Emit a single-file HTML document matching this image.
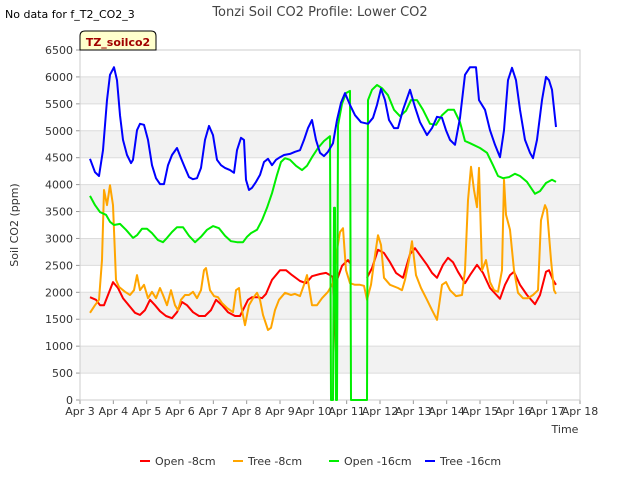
<!DOCTYPE html>
<html><head><meta charset="utf-8"><style>
body{margin:0;background:#fff;font-family:"Liberation Sans",sans-serif;}
svg text{font-family:"DejaVu Sans","Liberation Sans",sans-serif;}
</style></head><body>
<svg id="c" width="640" height="480" xmlns="http://www.w3.org/2000/svg">
<text x="320" y="16" text-anchor="middle" font-size="13" fill="#444">Tonzi Soil CO2 Profile: Lower CO2</text>
<text x="5" y="18" font-size="11" fill="#000">No data for f_T2_CO2_3</text>
<g id="plot"></g>
<g>
<path d="M80,50 L80,36 Q80,31 85,31 L151,31 Q156,31 156,36 L156,50 Z" fill="#ffffcc" stroke="#000" stroke-width="1"/>
<text x="118" y="46" text-anchor="middle" font-size="11" font-weight="bold" fill="#a00000">TZ_soilco2</text>
</g>
<text transform="translate(18,225) rotate(-90)" text-anchor="middle" font-size="11" fill="#333">Soil CO2 (ppm)</text>
<text x="565" y="433" text-anchor="middle" font-size="11" fill="#333">Time</text>
<g id="legend"></g>
</svg>
<script>
const yTicks=[0,500,1000,1500,2000,2500,3000,3500,4000,4500,5000,5500,6000,6500];
const xTickLabels=["Apr 3","Apr 4","Apr 5","Apr 6","Apr 7","Apr 8","Apr 9","Apr 10","Apr 11","Apr 12","Apr 13","Apr 14","Apr 15","Apr 16","Apr 17","Apr 18"];
const seriesNames=["Open -8cm","Tree -8cm","Open -16cm","Tree -16cm"];
const seriesColors=["#ff0000","#ffa500","#00ee00","#0000ff"];
const openDeepT=[3.30,3.45,3.60,3.78,3.90,4.02,4.20,4.38,4.59,4.71,4.86,5.01,5.16,5.34,5.49,5.61,5.76,5.91,6.09,6.27,6.45,6.63,6.81,6.99,7.17,7.35,7.53,7.71,7.89,8.01,8.13,8.31,8.46,8.61,8.76,8.91,9.03,9.15,9.30,9.48,9.66,9.81,9.96,10.14,10.32,10.50,10.53,10.59,10.62,10.65,10.68,10.71,10.74,10.86,10.98,11.10,11.13,11.61,11.64,11.76,11.91,12.06,12.24,12.42,12.60,12.78,12.93,13.11,13.29,13.50,13.68,13.86,14.04,14.22,14.40,14.55,14.70,15.00,15.21,15.39,15.54,15.69,15.87,16.05,16.20,16.41,16.65,16.80,16.98,17.16,17.28];
const openDeepV=[3790,3620,3490,3440,3310,3250,3270,3160,3010,3060,3180,3180,3100,2970,2930,3010,3120,3210,3210,3050,2930,3030,3160,3230,3190,3050,2950,2930,2930,3030,3100,3160,3340,3570,3840,4180,4420,4490,4460,4350,4270,4350,4510,4680,4810,4900,0,0,3570,3570,0,0,5100,5500,5700,5740,0,0,5570,5760,5850,5790,5660,5390,5270,5370,5570,5570,5390,5130,5110,5290,5390,5390,5160,4810,4770,4680,4590,4360,4160,4120,4140,4200,4160,4050,3830,3880,4030,4090,4050];
const treeDeepT=[3.30,3.45,3.57,3.69,3.81,3.90,4.02,4.11,4.20,4.29,4.41,4.53,4.59,4.71,4.80,4.92,5.04,5.16,5.28,5.40,5.52,5.64,5.76,5.91,6.03,6.15,6.27,6.39,6.51,6.63,6.75,6.87,6.99,7.11,7.23,7.35,7.50,7.62,7.71,7.83,7.92,7.98,8.07,8.16,8.28,8.40,8.52,8.64,8.76,8.88,9.00,9.12,9.30,9.45,9.60,9.72,9.84,9.96,10.08,10.20,10.32,10.44,10.59,10.71,10.83,10.95,11.10,11.25,11.43,11.64,11.79,11.91,12.03,12.15,12.27,12.42,12.54,12.69,12.90,13.05,13.20,13.41,13.56,13.71,13.86,13.98,14.10,14.25,14.40,14.55,14.70,14.88,14.97,15.15,15.30,15.45,15.60,15.72,15.84,15.96,16.08,16.20,16.35,16.50,16.59,16.71,16.86,16.98,17.07,17.16,17.28];
const treeDeepV=[4480,4230,4160,4640,5570,6040,6180,5940,5290,4830,4550,4400,4460,5010,5130,5110,4830,4360,4120,4010,4010,4360,4550,4680,4490,4310,4140,4100,4120,4310,4830,5090,4920,4460,4360,4310,4270,4220,4640,4870,4830,4090,3900,3940,4050,4180,4420,4480,4360,4460,4510,4550,4570,4610,4640,4830,5050,5200,4830,4590,4530,4610,4770,5200,5520,5700,5480,5290,5160,5130,5240,5480,5780,5570,5200,5050,5050,5390,5760,5440,5160,4920,5050,5260,5240,5010,4830,4740,5240,6040,6180,6180,5570,5390,5010,4740,4510,5010,5940,6170,5940,5390,4830,4590,4490,4830,5570,6000,5940,5760,5070];
const openShallowT=[3.30,3.48,3.60,3.72,3.84,3.99,4.14,4.29,4.50,4.65,4.80,4.95,5.10,5.25,5.40,5.58,5.76,5.91,6.06,6.21,6.39,6.57,6.75,6.93,7.08,7.26,7.44,7.65,7.80,7.92,8.04,8.16,8.34,8.46,8.58,8.76,9.00,9.18,9.36,9.60,9.78,9.96,10.20,10.38,10.50,10.59,10.62,10.68,10.71,10.86,11.04,11.10,11.30,11.61,11.76,11.94,12.12,12.30,12.48,12.69,12.90,13.05,13.20,13.41,13.56,13.71,13.89,14.04,14.19,14.34,14.55,14.70,14.91,15.09,15.30,15.60,15.75,15.90,16.02,16.20,16.41,16.65,16.80,16.98,17.07,17.19,17.28];
const openShallowV=[1910,1860,1760,1760,1950,2190,2080,1890,1730,1620,1580,1670,1860,1760,1650,1560,1520,1630,1820,1760,1630,1560,1560,1670,1860,1760,1630,1560,1560,1710,1860,1910,1910,1890,1970,2230,2410,2410,2320,2210,2170,2300,2340,2360,2320,2280,1580,890,2230,2490,2600,2540,null,2270,2450,2790,2730,2560,2360,2270,2710,2820,2690,2510,2360,2270,2510,2640,2560,2380,2170,2320,2510,2360,2080,1880,2140,2320,2380,2140,1950,1780,1950,2380,2410,2230,2140];
const treeShallowT=[3.30,3.45,3.57,3.66,3.72,3.81,3.90,3.99,4.08,4.17,4.35,4.50,4.62,4.71,4.80,4.92,5.04,5.16,5.28,5.40,5.49,5.61,5.73,5.85,5.94,6.03,6.15,6.27,6.39,6.51,6.63,6.72,6.78,6.90,7.02,7.14,7.26,7.41,7.59,7.68,7.77,7.83,7.95,8.07,8.19,8.31,8.40,8.49,8.64,8.73,8.85,8.97,9.15,9.33,9.45,9.60,9.72,9.81,9.96,10.11,10.26,10.44,10.59,10.71,10.80,10.89,10.98,11.10,11.25,11.40,11.52,11.61,11.73,11.85,11.94,12.03,12.12,12.30,12.54,12.66,12.75,12.87,12.96,13.08,13.23,13.41,13.56,13.71,13.86,13.98,14.10,14.28,14.46,14.55,14.64,14.73,14.82,14.91,14.97,15.06,15.18,15.30,15.42,15.54,15.66,15.72,15.78,15.90,16.02,16.14,16.29,16.44,16.59,16.74,16.83,16.95,17.01,17.13,17.22,17.28];
const treeShallowV=[1620,1760,1860,2600,3900,3620,3990,3620,2230,2100,2010,1950,2040,2320,2040,2140,1890,2010,1890,2080,1950,1760,2040,1760,1670,1860,1950,1950,2010,1890,2040,2410,2450,2040,1930,1910,1800,1710,1630,2040,2080,1760,1390,1760,1890,1990,1860,1580,1300,1340,1670,1860,1990,1950,1970,1930,2140,2320,1760,1760,1890,2010,2170,2790,3120,3190,2410,2170,2140,2140,2120,1860,2140,2690,3060,2880,2270,2140,2080,2040,2230,2600,2950,2320,2080,1860,1670,1490,2140,2190,2040,1930,1950,2410,3710,4330,3900,3580,4310,2410,2600,2190,2040,2010,2410,4090,3440,3160,2410,1990,1890,1890,1950,2040,3340,3620,3530,2600,2040,1970];

const NS="http://www.w3.org/2000/svg";
const L=80,R=580,T=50,B=400;
const xs=d=>L+(d-3)*(R-L)/15;
const ys=v=>B-v*(B-T)/6500;
function mk(tag,attrs,parent){const e=document.createElementNS(NS,tag);for(const k in attrs)e.setAttribute(k,attrs[k]);parent.appendChild(e);return e;}
const plot=document.getElementById('plot');
mk('rect',{x:L,y:T,width:R-L,height:B-T,fill:'#fff'},plot);
for(let i=0;i<yTicks.length-1;i++){
  if(i%2===1){const b=mk('rect',{x:L,y:ys(yTicks[i+1]),width:R-L,height:ys(yTicks[i])-ys(yTicks[i+1]),fill:'#f2f2f2'},plot);
  
  }
}
yTicks.forEach(v=>{
  const g=mk('line',{x1:L,x2:R,y1:ys(v),y2:ys(v),stroke:'#dcdcdc','stroke-width':1},plot);
  
  
  const t=mk('text',{x:L-7,y:ys(v)+4,'text-anchor':'end','font-size':11,fill:'#333'},plot);
  t.textContent=v;
  
  
  mk('line',{x1:L-4,x2:L,y1:ys(v),y2:ys(v),stroke:'#999'},plot);
});
xTickLabels.forEach((s,i)=>{
  const x=xs(3+i);
  mk('line',{x1:x,x2:x,y1:B,y2:B+4,stroke:'#999'},plot);
  const t=mk('text',{x:x,y:B+15,'text-anchor':'middle','font-size':11,fill:'#333'},plot);
  t.textContent=s;
  
  
});
mk('rect',{x:L,y:T,width:R-L,height:B-T,fill:'none',stroke:'#ccc'},plot);
const series=[[openShallowT,openShallowV],[treeShallowT,treeShallowV],[openDeepT,openDeepV],[treeDeepT,treeDeepV]];
const slugs=['open-8cm-line','tree-8cm-line','open-16cm-line','tree-16cm-line'];
series.forEach((s,k)=>{
  let d='',pen=false;
  s[0].forEach((t,i)=>{const v=s[1][i];if(v===null){pen=false;return;}d+=(pen?'L':'M')+xs(t).toFixed(1)+','+ys(v).toFixed(1);pen=true;});
  const p=mk('path',{d:d,fill:'none',stroke:seriesColors[k],'stroke-width':2,'stroke-linejoin':'round'},plot);
  
  
});
const lg=document.getElementById('legend');
const lx=[140,233,329,425];
seriesNames.forEach((n,k)=>{
  const g=mk('g',{},lg);
  
  
  mk('line',{x1:lx[k],x2:lx[k]+10,y1:461,y2:461,stroke:seriesColors[k],'stroke-width':2},g);
  const t=mk('text',{x:lx[k]+15,y:465,'font-size':11,fill:'#333'},g);
  t.textContent=n;
});
</script>
</body></html>
